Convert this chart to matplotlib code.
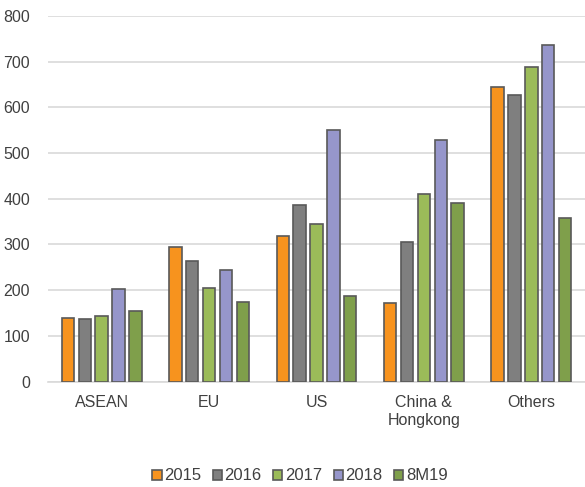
import matplotlib.pyplot as plt
import numpy as np

plt.rcParams['font.family'] = ['Liberation Sans', 'DejaVu Sans']

categories = ["ASEAN", "EU", "US", "China &\nHongkong", "Others"]
series_names = ["2015", "2016", "2017", "2018", "8M19"]
v2015 = [139, 295, 318, 171, 645]
v2016 = [136, 263, 387, 305, 626]
v2017 = [144, 204, 344, 410, 689]
v2018 = [203, 243, 551, 528, 737]
v8m19 = [155, 174, 187, 390, 357]
yticks = [0, 100, 200, 300, 400, 500, 600, 700, 800]

series = [v2015, v2016, v2017, v2018, v8m19]
colors = ["#F7931E", "#7F7F7F", "#9BBB59", "#9696CB", "#7F9F4B"]

fig = plt.figure(figsize=(5.85, 4.87), dpi=100)
ax = fig.add_axes([48 / 585, 1 - 381.5 / 487, 537 / 585, (381.5 - 16) / 487])

x = np.arange(len(categories))
pitch = 0.157
width = 0.116
for i, (vals, c, name) in enumerate(zip(series, colors, series_names)):
    ax.bar(x + (i - 2) * pitch, vals, width, color=c, edgecolor="#595959",
           linewidth=1.2, label=name, zorder=3)

ax.set_xlim(-0.5, len(categories) - 0.5)
ax.set_ylim(0, 800)
ax.set_yticks(yticks)
ax.set_yticklabels([str(t) for t in yticks], fontsize=11.5, color="#404040")
ax.set_xticks(x)
ax.set_xticklabels(categories, fontsize=11.5, color="#404040")
ax.tick_params(axis="both", length=0)
ax.tick_params(axis="y", pad=13)
ax.tick_params(axis="x", pad=10)
ax.grid(axis="y", color="#D9D9D9", linewidth=1.2, zorder=0)
for s in ["top", "right", "left"]:
    ax.spines[s].set_visible(False)
ax.spines["bottom"].set_color("#D9D9D9")
ax.spines["bottom"].set_linewidth(1.2)

fig.legend(loc="center", bbox_to_anchor=(300 / 585, 1 - 476 / 487), ncol=5,
           frameon=False, fontsize=12, handlelength=0.55, handleheight=0.55,
           handletextpad=0.15, columnspacing=0.7, labelcolor="#404040")

fig.savefig("out.png", dpi=100)
